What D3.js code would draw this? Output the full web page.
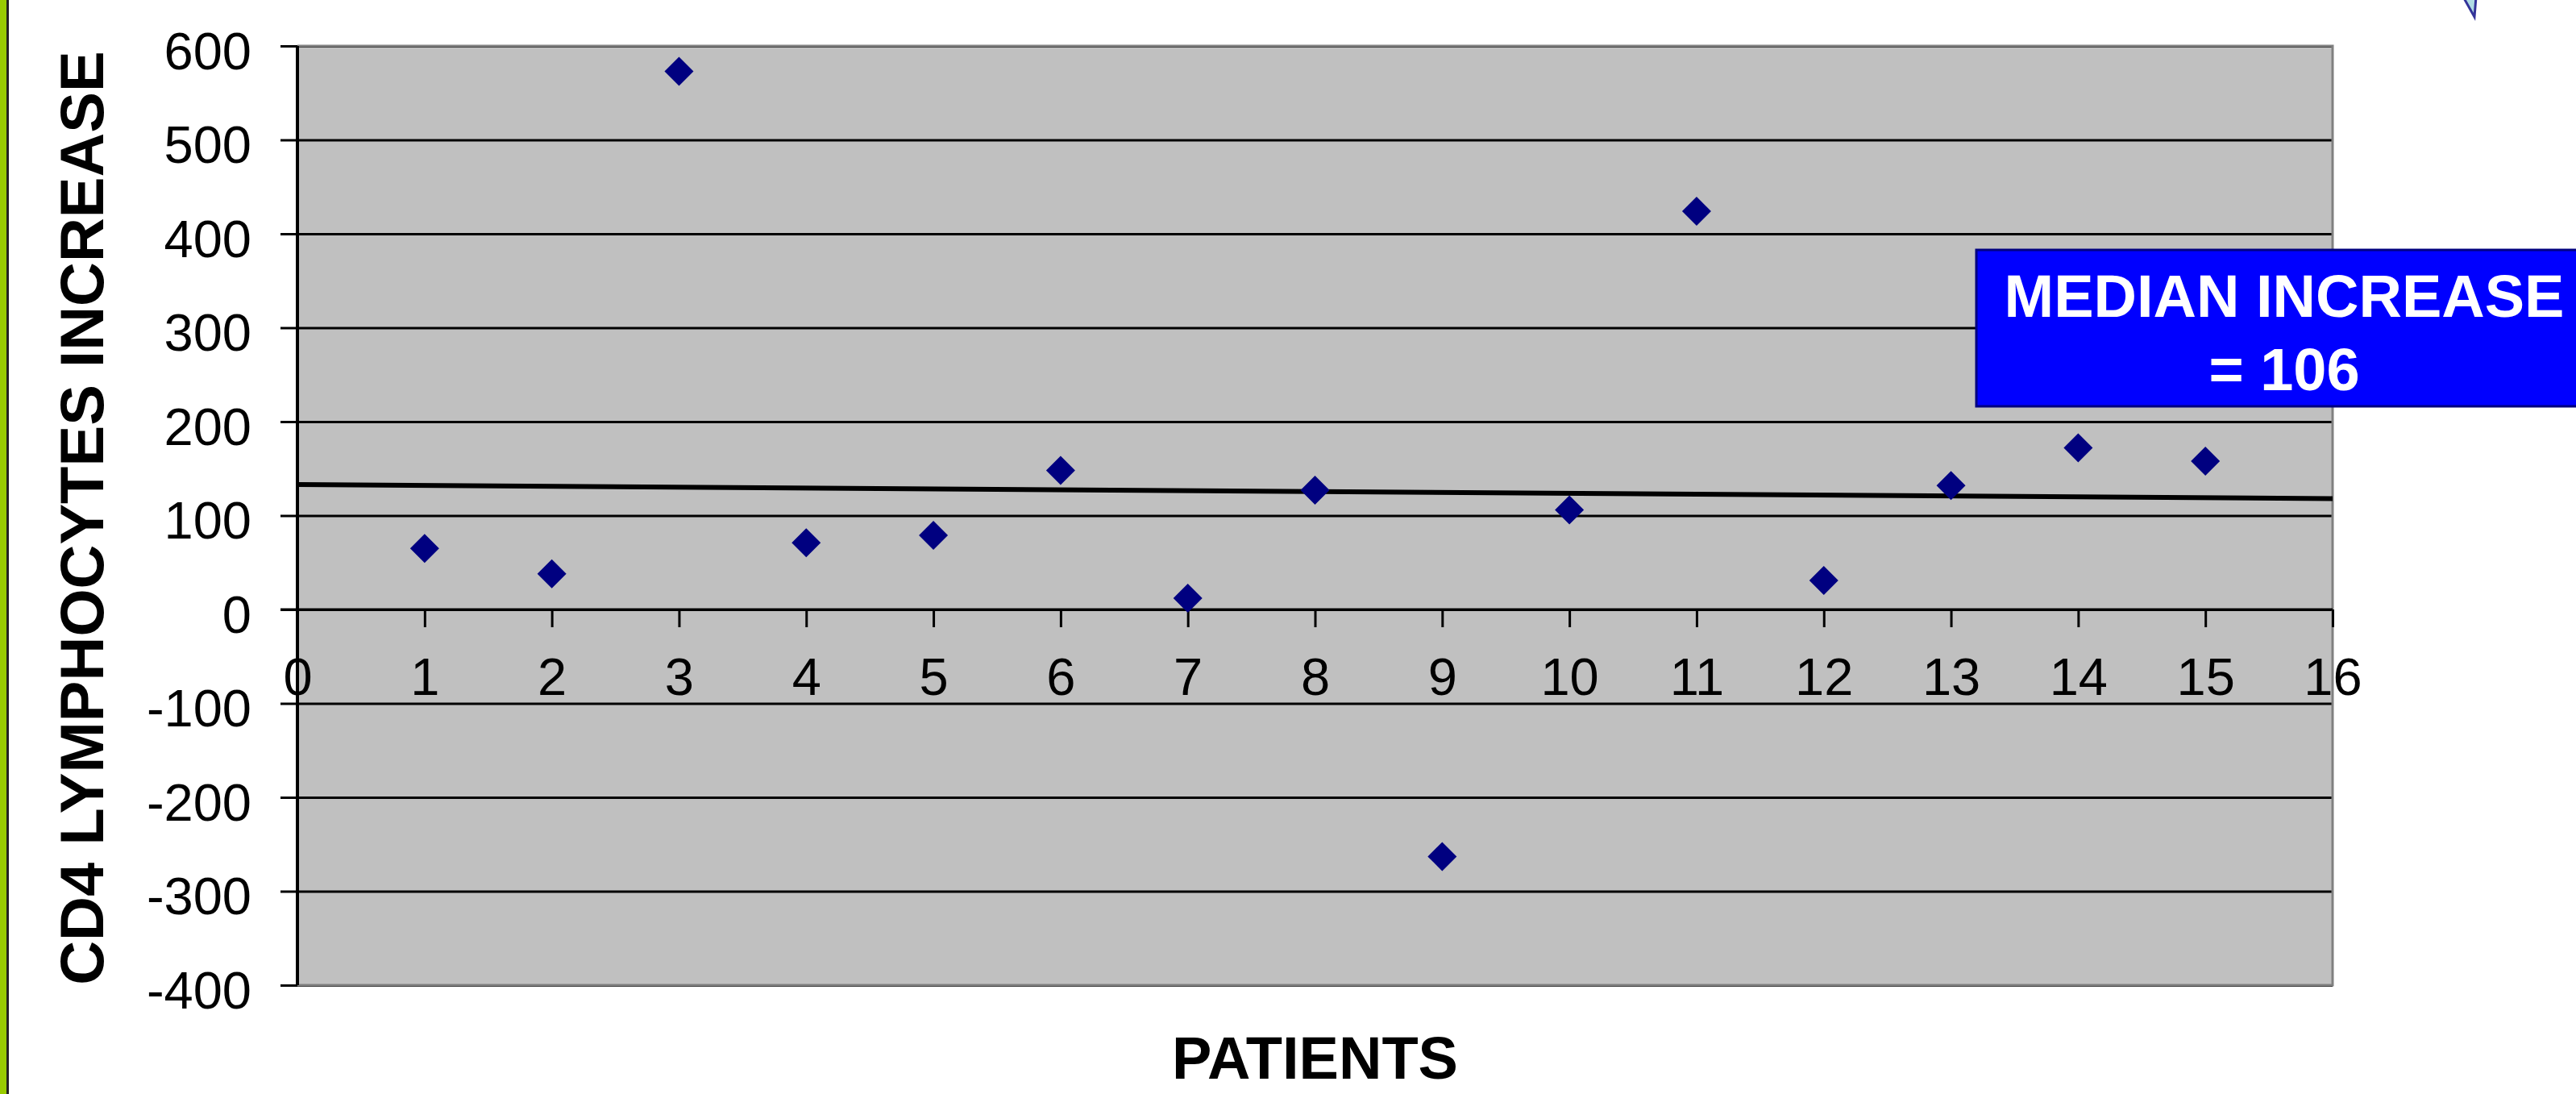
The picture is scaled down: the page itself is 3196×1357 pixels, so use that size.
<!DOCTYPE html>
<html>
<head>
<meta charset="utf-8">
<script src="https://cdn.jsdelivr.net/npm/d3@7"></script>
<style>
  html, body { margin: 0; padding: 0; background: #fff; overflow: hidden; }
  svg { display: block; font-family: "Liberation Sans", Arial, sans-serif; }
</style>
</head>
<body>
<div id="chart"></div>
<script>
// Data
const patients = [1, 2, 3, 4, 5, 6, 7, 8, 9, 10, 11, 12, 13, 14, 15];
const cd4Increase = [65, 38, 573, 71, 79, 148, 12, 127, -263, 106, 424, 31, 132, 172, 158];
const xTicks = d3.range(0, 17);
const yTicks = d3.range(-400, 601, 100);
const trendX = [0, 16];
const trendY = [133, 118];
const medianLines = ["MEDIAN INCREASE", "= 106"];

const W = 3196, H = 1357;
const plot = { left: 369, right: 2894, top: 57, bottom: 1222 };

const svg = d3.select("#chart").append("svg")
    .attr("width", W)
    .attr("height", H);

// slide decoration: green strip on the left edge
svg.append("rect").attr("x", 0).attr("y", 0).attr("width", 8).attr("height", H).attr("fill", "#99cc00");
svg.append("rect").attr("x", 8).attr("y", 0).attr("width", 3).attr("height", H).attr("fill", "#222");

// scales
const x = d3.scaleLinear().domain([0, 16]).range([plot.left, plot.right]);
const y = d3.scaleLinear().domain([-400, 600]).range([plot.bottom, plot.top]);

// plot area
svg.append("rect")
    .attr("x", plot.left).attr("y", plot.top)
    .attr("width", plot.right - plot.left)
    .attr("height", plot.bottom - plot.top)
    .attr("fill", "#c0c0c0");

// y axis with gridlines (ticks reach out left of the axis)
const yAxis = d3.axisLeft(y)
    .tickValues(yTicks)
    .tickSize(-(plot.right - plot.left))
    .tickPadding(0)
    .tickFormat(d => String(d));

const gy = svg.append("g")
    .attr("transform", `translate(${plot.left},0)`)
    .call(yAxis);
gy.select(".domain").remove();
gy.selectAll(".tick line")
    .attr("x1", -21)
    .attr("stroke", "#000")
    .attr("stroke-width", 3);
gy.selectAll(".tick text")
    .attr("x", -57)
    .attr("dy", null)
    .attr("y", 28)
    .attr("fill", "#000")
    .style("font-size", "65px");

// plot border (gray) right/bottom/top
svg.append("path")
    .attr("d", `M${plot.left},${plot.top}H${plot.right}V${plot.bottom}H${plot.left}`)
    .attr("fill", "none")
    .attr("stroke", "#808080")
    .attr("stroke-width", 3);

// vertical axis line at x = 0
svg.append("line")
    .attr("x1", x(0)).attr("x2", x(0))
    .attr("y1", plot.top).attr("y2", plot.bottom)
    .attr("stroke", "#000")
    .attr("stroke-width", 4);

// x axis sits on y = 0
const xAxis = d3.axisBottom(x)
    .tickValues(xTicks)
    .tickSize(22)
    .tickPadding(0)
    .tickFormat(d => String(d));

const gx = svg.append("g")
    .attr("transform", `translate(0,${y(0)})`)
    .call(xAxis);
gx.select(".domain")
    .attr("d", `M${plot.left - 21},0H${plot.right}`)
    .attr("stroke", "#000")
    .attr("stroke-width", 3);
gx.selectAll(".tick line")
    .attr("stroke", "#000")
    .attr("stroke-width", 3);
gx.selectAll(".tick text")
    .attr("y", 106)
    .attr("dy", null)
    .attr("fill", "#000")
    .style("font-size", "65px");

// linear trend line
svg.append("path")
    .datum(trendX.map((d, i) => [d, trendY[i]]))
    .attr("d", d3.line().x(d => x(d[0])).y(d => y(d[1])))
    .attr("stroke", "#000")
    .attr("stroke-width", 6)
    .attr("fill", "none");

// data points (navy diamonds)
const diamond = d3.symbol().type(d3.symbolSquare).size(18 * 18 * 2);
svg.append("g")
    .selectAll("path")
    .data(patients)
    .join("path")
    .attr("d", diamond)
    .attr("transform", (d, i) => `translate(${x(d)},${y(cd4Increase[i])}) rotate(45)`)
    .attr("fill", "#000080");

// median annotation box
svg.append("rect")
    .attr("x", 2452).attr("y", 310)
    .attr("width", 800).attr("height", 194)
    .attr("fill", "#0000ff")
    .attr("stroke", "#000080")
    .attr("stroke-width", 3);

svg.append("g")
    .selectAll("text")
    .data(medianLines)
    .join("text")
    .attr("x", 2834)
    .attr("y", (d, i) => 393 + i * 91)
    .attr("text-anchor", "middle")
    .attr("fill", "#fff")
    .style("font-size", "74px")
    .style("font-weight", "bold")
    .text(d => d);

// axis titles
svg.append("text")
    .attr("transform", `translate(128,${(plot.top + plot.bottom) / 2 + 3}) rotate(-90)`)
    .attr("text-anchor", "middle")
    .style("font-size", "76px")
    .style("font-weight", "bold")
    .text("CD4 LYMPHOCYTES INCREASE");

svg.append("text")
    .attr("x", (plot.left + plot.right) / 2)
    .attr("y", 1338)
    .attr("text-anchor", "middle")
    .style("font-size", "74px")
    .style("font-weight", "bold")
    .text("PATIENTS");

// corner of a clipart shape peeking in at the top right
svg.append("path")
    .attr("d", "M3056,-4L3072,-4L3070,21Z")
    .attr("fill", "#b0dde4")
    .attr("stroke", "#333399")
    .attr("stroke-width", 3);
</script>
</body>
</html>
